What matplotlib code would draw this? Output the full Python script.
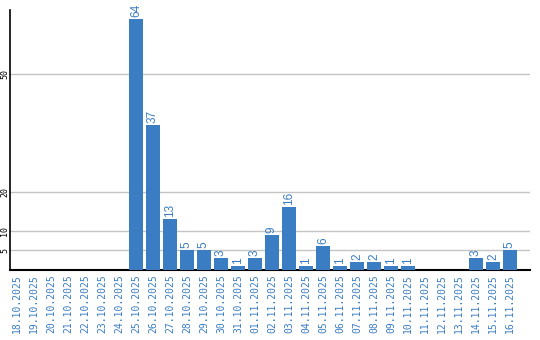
import matplotlib
matplotlib.use("Agg")
import matplotlib.pyplot as plt

dates = [
    "18.10.2025", "19.10.2025", "20.10.2025", "21.10.2025", "22.10.2025",
    "23.10.2025", "24.10.2025", "25.10.2025", "26.10.2025", "27.10.2025",
    "28.10.2025", "29.10.2025", "30.10.2025", "31.10.2025", "01.11.2025",
    "02.11.2025", "03.11.2025", "04.11.2025", "05.11.2025", "06.11.2025",
    "07.11.2025", "08.11.2025", "09.11.2025", "10.11.2025", "11.11.2025",
    "12.11.2025", "13.11.2025", "14.11.2025", "15.11.2025", "16.11.2025",
]
counts = [0, 0, 0, 0, 0, 0, 0, 64, 37, 13, 5, 5, 3, 1, 3, 9, 16, 1, 6, 1,
          2, 2, 1, 1, 0, 0, 0, 3, 2, 5]
yticks = [5, 10, 20, 50]

blue = "#3a7dc2"

fig = plt.figure(figsize=(5.4, 3.4), dpi=100)
ax = fig.add_axes([10 / 540, 70 / 340, 520 / 540, 260 / 340])

x = list(range(len(dates)))
bars = ax.bar(x, counts, width=0.82, color=blue, zorder=3)

# value labels above non-empty bars
for xi, v in zip(x, counts):
    if v > 0:
        ax.annotate(str(v), (xi, v), xytext=(0, 1.5), textcoords="offset points",
                    rotation=90, ha="center", va="bottom", color=blue,
                    fontsize=8.5, family="Liberation Sans")

ax.set_xlim(-0.41, 30.18)
ax.set_ylim(0, 66.3)

ax.set_yticks(yticks)
ax.set_yticklabels([str(t) for t in yticks], rotation=90, va="center",
                   fontsize=6, family="DejaVu Sans Mono")
ax.set_xticks(x)
ax.set_xticklabels(dates, rotation=90, color=blue, fontsize=7,
                   family="DejaVu Sans Mono")
ax.tick_params(axis="both", length=0, pad=3)
ax.tick_params(axis="y", pad=0.5)

ax.grid(axis="y", color="#c4c4c4", linewidth=1, zorder=0)
for s in ["top", "right"]:
    ax.spines[s].set_visible(False)
ax.spines["left"].set_linewidth(1.2)
ax.spines["bottom"].set_linewidth(1.5)

fig.savefig("out.png", dpi=100)
